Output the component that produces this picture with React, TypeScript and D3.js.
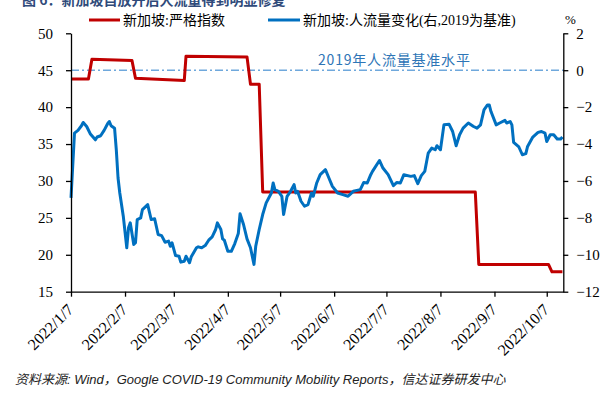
import React, { useEffect, useRef } from 'react'
import * as d3 from 'd3'

const width = 601
const height = 396

// 新加坡:严格指数 (左轴)
const stringencyDates = [
  '2022-01-07', '2022-01-17', '2022-01-19', '2022-02-11', '2022-02-13', '2022-03-13',
  '2022-03-14', '2022-04-18', '2022-04-20', '2022-04-25', '2022-04-27', '2022-08-27',
  '2022-08-29', '2022-10-08', '2022-10-10', '2022-10-16',
]
const stringencyValues = [
  43.8, 43.8, 46.5, 46.3, 43.9, 43.6, 46.9, 46.8, 43.1, 43.1, 28.5, 28.5, 18.7, 18.7, 17.7, 17.7,
]

// 新加坡:人流量变化 (右轴, 2019为基准)
const mobilityDates = [
  '2022-01-07', '2022-01-09', '2022-01-11', '2022-01-13', '2022-01-14', '2022-01-16', '2022-01-18',
  '2022-01-19', '2022-01-21', '2022-01-22', '2022-01-24', '2022-01-26', '2022-01-28', '2022-01-29',
  '2022-01-30', '2022-02-01', '2022-02-02', '2022-02-03', '2022-02-04', '2022-02-06', '2022-02-08',
  '2022-02-09', '2022-02-10', '2022-02-12', '2022-02-13', '2022-02-14', '2022-02-16', '2022-02-17',
  '2022-02-20', '2022-02-22', '2022-02-24', '2022-02-26', '2022-02-28', '2022-03-02', '2022-03-04',
  '2022-03-05', '2022-03-06', '2022-03-08', '2022-03-10', '2022-03-11', '2022-03-13', '2022-03-14',
  '2022-03-16', '2022-03-17', '2022-03-20', '2022-03-21', '2022-03-23', '2022-03-25', '2022-03-27',
  '2022-03-29', '2022-03-31', '2022-04-01', '2022-04-03', '2022-04-04', '2022-04-05', '2022-04-07',
  '2022-04-09', '2022-04-11', '2022-04-13', '2022-04-14', '2022-04-16', '2022-04-18', '2022-04-20',
  '2022-04-22', '2022-04-23', '2022-04-25', '2022-04-27', '2022-04-29', '2022-05-01', '2022-05-02',
  '2022-05-03', '2022-05-04', '2022-05-06', '2022-05-08', '2022-05-09', '2022-05-11', '2022-05-13',
  '2022-05-15', '2022-05-16', '2022-05-17', '2022-05-19', '2022-05-21', '2022-05-23', '2022-05-25',
  '2022-05-26', '2022-05-28', '2022-05-30', '2022-06-02', '2022-06-04', '2022-06-06', '2022-06-09',
  '2022-06-12', '2022-06-15', '2022-06-18', '2022-06-22', '2022-06-24', '2022-06-26', '2022-06-28',
  '2022-06-29', '2022-07-03', '2022-07-05', '2022-07-08', '2022-07-11', '2022-07-13', '2022-07-15',
  '2022-07-17', '2022-07-21', '2022-07-23', '2022-07-25', '2022-07-27', '2022-07-29', '2022-07-31',
  '2022-08-02', '2022-08-04', '2022-08-05', '2022-08-07', '2022-08-09', '2022-08-12', '2022-08-14',
  '2022-08-16', '2022-08-18', '2022-08-20', '2022-08-23', '2022-08-26', '2022-08-28', '2022-08-30',
  '2022-09-01', '2022-09-03', '2022-09-04', '2022-09-05', '2022-09-08', '2022-09-10', '2022-09-13',
  '2022-09-14', '2022-09-16', '2022-09-17', '2022-09-18', '2022-09-21', '2022-09-23', '2022-09-25',
  '2022-09-26', '2022-09-29', '2022-10-02', '2022-10-04', '2022-10-06', '2022-10-07', '2022-10-09',
  '2022-10-11', '2022-10-13', '2022-10-15', '2022-10-16',
]
const mobilityValues = [
  -6.92, -3.41, -3.26, -3.01, -2.83, -3.05, -3.44,
  -3.55, -3.77, -3.62, -3.55, -3.26, -2.9, -2.78,
  -3.01, -3.14, -4.31, -5.84, -6.65, -7.91, -9.62,
  -8.54, -8.27, -9.44, -9.35, -8.09, -8.0, -7.55,
  -7.28, -8.09, -8.05, -8.9, -8.96, -9.32, -9.26,
  -9.54, -9.35, -10.04, -10.08, -10.4, -10.35, -10.08,
  -10.43, -10.11, -9.62, -9.57, -9.62, -9.5, -9.21,
  -9.03, -8.63, -8.27, -8.63, -9.14, -9.21, -9.81,
  -9.81, -9.39, -8.85, -7.78, -8.36, -9.14, -9.62,
  -10.52, -9.54, -8.63, -7.82, -7.19, -6.83, -6.65,
  -6.11, -6.47, -6.56, -6.83, -7.82, -6.83, -6.56,
  -6.2, -6.65, -6.56, -7.1, -7.37, -7.28, -6.65,
  -6.83, -6.11, -5.66, -5.39, -5.84, -6.29, -6.65,
  -6.74, -6.83, -6.56, -6.47, -6.08, -6.11, -5.66,
  -5.48, -4.89, -5.3, -5.66, -6.25, -6.08, -6.11,
  -5.66, -5.75, -5.71, -6.15, -5.71, -5.48, -4.49,
  -4.22, -4.31, -4.09, -4.31, -2.96, -2.93, -3.32,
  -4.09, -3.5, -3.14, -2.86, -3.05, -3.14, -2.96,
  -2.15, -1.88, -1.88, -2.24, -2.96, -2.86, -2.72,
  -2.86, -2.78, -2.96, -3.91, -4.16, -4.58, -4.52,
  -4.13, -3.62, -3.37, -3.32, -3.41, -3.86, -3.5,
  -3.5, -3.73, -3.73, -3.62,
]

const leftTicks = [15, 20, 25, 30, 35, 40, 45, 50]
const rightTicks = [-12, -10, -8, -6, -4, -2, 0, 2]
const monthTicks = [
  '2022-01-07', '2022-02-07', '2022-03-07', '2022-04-07', '2022-05-07',
  '2022-06-07', '2022-07-07', '2022-08-07', '2022-09-07', '2022-10-07',
]

const parse = d3.timeParse('%Y-%m-%d')
const serif = '"Liberation Serif", "Times New Roman", "Noto Sans CJK SC", serif'
const cjk = '"Liberation Serif", "Noto Sans CJK SC", serif'

export default function App() {
  const leftRef = useRef<SVGGElement>(null)
  const rightRef = useRef<SVGGElement>(null)
  const bottomRef = useRef<SVGGElement>(null)

  const left = 71
  const right = 563.3
  const top = 33.3
  const bottom = 291.7

  const x = d3
    .scaleTime()
    .domain([parse('2022-01-07') as Date, new Date(2022, 9, 16, 12)])
    .range([left, right])
  const yL = d3.scaleLinear().domain([15, 50]).range([bottom, top])
  const yR = d3.scaleLinear().domain([-12, 2]).range([bottom, top])

  const redData = stringencyDates.map((d, i) => ({ date: parse(d) as Date, v: stringencyValues[i] }))
  const blueData = mobilityDates.map((d, i) => ({ date: parse(d) as Date, v: mobilityValues[i] }))

  const redLine = d3
    .line<{ date: Date; v: number }>()
    .x(d => x(d.date))
    .y(d => yL(d.v))
  const blueLine = d3
    .line<{ date: Date; v: number }>()
    .x(d => x(d.date))
    .y(d => yR(d.v))

  useEffect(() => {
    const styleAxis = (g: d3.Selection<SVGGElement, unknown, null, undefined>) => {
      g.attr('font-family', serif).attr('font-size', 15)
      g.selectAll('path.domain').attr('stroke', '#000').attr('stroke-width', 1.3)
      g.selectAll('.tick line').attr('stroke', '#000').attr('stroke-width', 1.3)
      g.selectAll('.tick text').attr('fill', '#000')
    }

    const gl = d3.select(leftRef.current as SVGGElement)
    gl.call(d3.axisLeft(yL).tickValues(leftTicks).tickSize(5).tickSizeOuter(0).tickPadding(13))
    styleAxis(gl)

    const gr = d3.select(rightRef.current as SVGGElement)
    gr.call(d3.axisRight(yR).tickValues(rightTicks).tickSize(5).tickSizeOuter(0).tickPadding(8))
    styleAxis(gr)

    const gb = d3.select(bottomRef.current as SVGGElement)
    gb.call(
      d3
        .axisBottom(x)
        .tickValues(monthTicks.map(d => parse(d) as Date))
        .tickFormat(d => d3.timeFormat('%Y/%-m/%-d')(d as Date))
        .tickSize(5)
        .tickSizeOuter(0)
    )
    styleAxis(gb)
    gb.attr('font-size', 16)
    gb.selectAll('.tick text')
      .attr('x', 0)
      .attr('y', 0)
      .attr('dy', 0)
      .attr('text-anchor', 'end')
      .attr('transform', 'translate(3,19) rotate(-45)')
  }, [])

  return (
    <svg
      width={width}
      height={height}
      viewBox={`0 0 ${width} ${height}`}
      style={{ position: 'absolute', left: 0, top: 0, background: '#fff' }}
    >
      <rect width={width} height={height} fill="#fff" />
      {/* title, cut off at the top like the source */}
      <text x={22} y={5} fontFamily='"Noto Sans CJK SC", sans-serif' fontWeight="bold" fontSize={14} fill="#2f4a7a">
        图 6：新加坡自放开后人流量得到明显修复
      </text>

      {/* legend */}
      <line x1={89} x2={120} y1={20} y2={20} stroke="#c00000" strokeWidth={3} />
      <text x={123} y={25} fontFamily={cjk} fontSize={14} fill="#000">
        新加坡:严格指数
      </text>
      <line x1={268} x2={300} y1={20} y2={20} stroke="#0070c0" strokeWidth={3} />
      <text x={303} y={25} fontFamily={cjk} fontSize={14} fill="#000">
        新加坡:人流量变化(右,2019为基准)
      </text>
      <text x={565} y={24} fontFamily={serif} fontSize={13} fill="#000">
        %
      </text>

      {/* 2019 baseline */}
      <line
        x1={left}
        x2={right}
        y1={yR(0)}
        y2={yR(0)}
        stroke="#6fa8dc"
        strokeWidth={1.5}
        strokeDasharray="8 3 2 3"
      />
      <text
        x={318}
        y={65}
        fontFamily='"Noto Sans CJK SC", sans-serif'
        fontSize={14}
        letterSpacing={0.8}
        fill="#2e75b6"
      >
        2019年人流量基准水平
      </text>

      <path d={redLine(redData) || ''} fill="none" stroke="#c00000" strokeWidth={3} strokeLinejoin="round" />
      <path d={blueLine(blueData) || ''} fill="none" stroke="#0070c0" strokeWidth={3} strokeLinejoin="round" />

      <g ref={leftRef} transform={`translate(${left},0)`} />
      <g ref={rightRef} transform={`translate(${right},0)`} />
      <g ref={bottomRef} transform={`translate(0,${bottom})`} />

      <text
        x={15}
        y={384}
        fontFamily='"Liberation Sans", "Noto Sans CJK SC", sans-serif'
        fontStyle="italic"
        fontSize={13}
        fill="#222"
      >
        资料来源: Wind，Google COVID-19 Community Mobility Reports，信达证券研发中心
      </text>
    </svg>
  )
}
